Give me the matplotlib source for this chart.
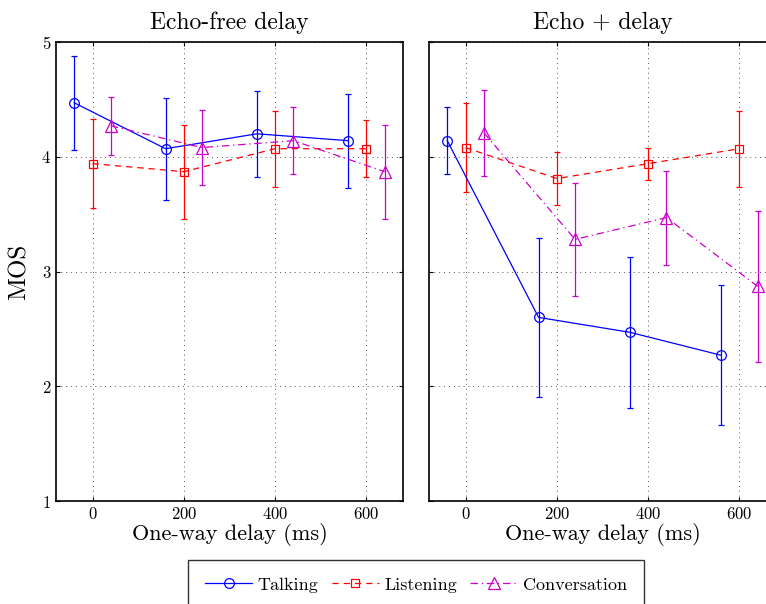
import numpy as np
import matplotlib.pyplot as plt
from matplotlib.lines import Line2D

plt.rcParams['font.family'] = ['cmr10', 'DejaVu Serif']
plt.rcParams['axes.formatter.use_mathtext'] = True

# one-way delay groups and per-series offsets
DELAYS = [0, 200, 400, 600]
SERIES = ['Talking', 'Listening', 'Conversation']
OFFSETS = [-40, 0, 40]
COLORS = ['#0000ff', '#ff0000', '#cc00cc']
MARKERS = ['o', 's', '^']
STYLES = ['-', (0, (5, 4)), (0, (6, 3, 1, 3))]
MSIZE = [7, 6, 9]

# Echo-free delay: means and error half-widths
free_talk = [4.47, 4.07, 4.20, 4.14]
free_talk_err = [0.41, 0.445, 0.375, 0.41]
free_listen = [3.94, 3.87, 4.07, 4.07]
free_listen_err = [0.39, 0.41, 0.33, 0.25]
free_conv = [4.27, 4.08, 4.14, 3.87]
free_conv_err = [0.255, 0.33, 0.29, 0.41]

# Echo + delay
echo_talk = [4.14, 2.60, 2.47, 2.27]
echo_talk_err = [0.29, 0.69, 0.66, 0.61]
echo_listen = [4.08, 3.81, 3.94, 4.07]
echo_listen_err = [0.39, 0.23, 0.14, 0.33]
echo_conv = [4.21, 3.28, 3.47, 2.87]
echo_conv_err = [0.375, 0.49, 0.41, 0.66]

TITLES = ['Echo-free delay', 'Echo + delay']


def draw_panel(ax, means, errs, title):
    for k in range(3):
        x = np.array(DELAYS) + OFFSETS[k]
        ax.errorbar(x, means[k], yerr=errs[k], color=COLORS[k],
                    marker=MARKERS[k], markersize=MSIZE[k],
                    markerfacecolor='none', markeredgewidth=0.9,
                    linestyle=STYLES[k], linewidth=0.9,
                    elinewidth=0.9, capsize=2.5, capthick=0.9)
    ax.set_xlim(-80, 680)
    ax.set_ylim(1, 5)
    ax.set_xticks(DELAYS)
    ax.set_yticks([1, 2, 3, 4, 5])
    ax.grid(True, linestyle=(0, (1, 4)), color='#555555', linewidth=0.7)
    ax.tick_params(direction='in', top=True, right=True, length=3,
                   labelsize=12)
    ax.set_title(title, fontsize=17, pad=9)
    ax.set_xlabel('One-way delay (ms)', fontsize=16, labelpad=1)
    for s in ax.spines.values():
        s.set_linewidth(1.2)


fig = plt.figure(figsize=(7.66, 6.04), dpi=100)
ax1 = fig.add_axes([56 / 766, 1 - 501 / 604, 347 / 766, 459 / 604])
ax2 = fig.add_axes([429 / 766, 1 - 501 / 604, 347 / 766, 459 / 604])

draw_panel(ax1, [free_talk, free_listen, free_conv],
           [free_talk_err, free_listen_err, free_conv_err], TITLES[0])
draw_panel(ax2, [echo_talk, echo_listen, echo_conv],
           [echo_talk_err, echo_listen_err, echo_conv_err], TITLES[1])
ax2.set_yticklabels([])
ax1.set_ylabel('MOS', fontsize=18, labelpad=8)

handles = [Line2D([], [], color=COLORS[k], marker=MARKERS[k],
                  markersize=MSIZE[k], markerfacecolor='none',
                  markeredgewidth=0.9, linestyle=STYLES[k], linewidth=0.9,
                  label=SERIES[k]) for k in range(3)]
leg = fig.legend(handles=handles, loc='upper left', ncol=3,
                 bbox_to_anchor=(188 / 766, 1 - 560 / 604), fontsize=13,
                 frameon=True, fancybox=False, edgecolor='black',
                 handlelength=2.6, handletextpad=0.3, columnspacing=0.75,
                 borderpad=0.95, borderaxespad=0)
leg.get_frame().set_linewidth(1.0)

fig.savefig('out.png', dpi=100)
